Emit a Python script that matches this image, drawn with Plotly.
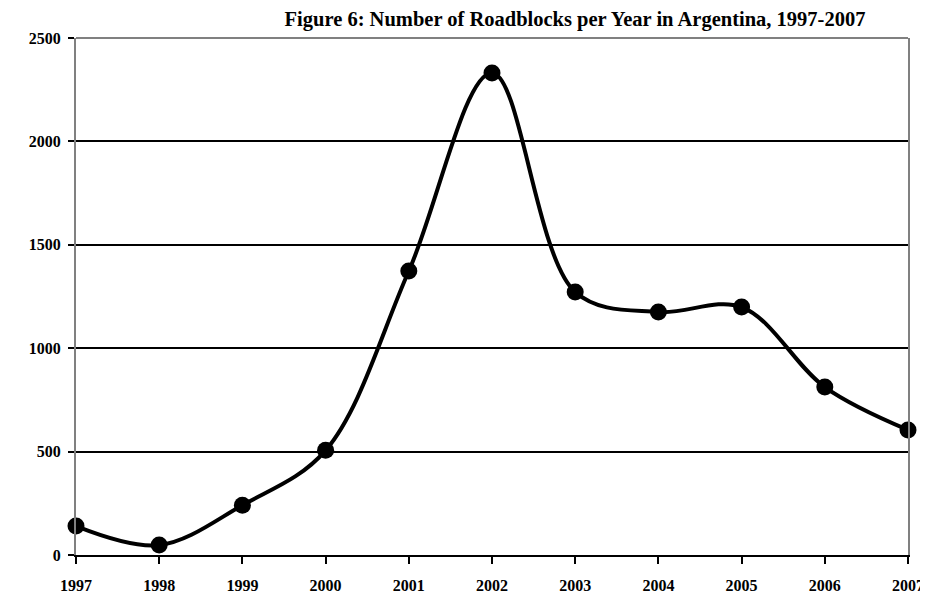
import plotly.graph_objects as go

years = [1997, 1998, 1999, 2000, 2001, 2002, 2003, 2004, 2005, 2006, 2007]
roadblocks = [140, 48, 241, 506, 1373, 2331, 1272, 1175, 1199, 812, 605]
y_ticks = [0, 500, 1000, 1500, 2000, 2500]
title_text = "Figure 6: Number of Roadblocks per Year in Argentina, 1997-2007"

fig = go.Figure()
fig.add_trace(go.Scatter(
    x=years, y=roadblocks, mode="lines+markers",
    line=dict(color="black", width=4, shape="spline", smoothing=1.0),
    marker=dict(color="black", size=17),
    cliponaxis=False, showlegend=False,
))

font = dict(family="Liberation Serif", size=16, color="black")
fig.update_layout(
    width=928, height=598,
    margin=dict(l=68, r=22, t=30, b=45),
    paper_bgcolor="white", plot_bgcolor="white",
    title=dict(text="<b>" + title_text + "</b>", x=0.611, xanchor="center",
               y=0.982, yanchor="middle",
               font=dict(family="Liberation Serif", size=20.5, color="black")),
    xaxis=dict(range=[1997, 2007], tickvals=years,
               ticktext=["<b>%d</b>" % y for y in years],
               showgrid=False, zeroline=False,
               showline=True, linecolor="black", linewidth=2,
               ticks="outside", ticklen=7, tickwidth=2, tickcolor="black",
               ticklabelstandoff=8,
               tickfont=font),
    yaxis=dict(range=[0, 2500], tickvals=y_ticks,
               ticktext=["<b>%d</b>" % v for v in y_ticks],
               showgrid=True, gridcolor="black", gridwidth=1.5,
               zeroline=False,
               showline=True, linecolor="#808080", linewidth=2, mirror=True,
               ticks="outside", ticklen=6, tickwidth=2, tickcolor="black",
               ticklabelstandoff=4,
               tickfont=font),
    shapes=[dict(type="line", xref="paper", yref="paper", x0=0, x1=1, y0=1, y1=1,
                 line=dict(color="#808080", width=2))],
)
fig.write_html("out.html")
